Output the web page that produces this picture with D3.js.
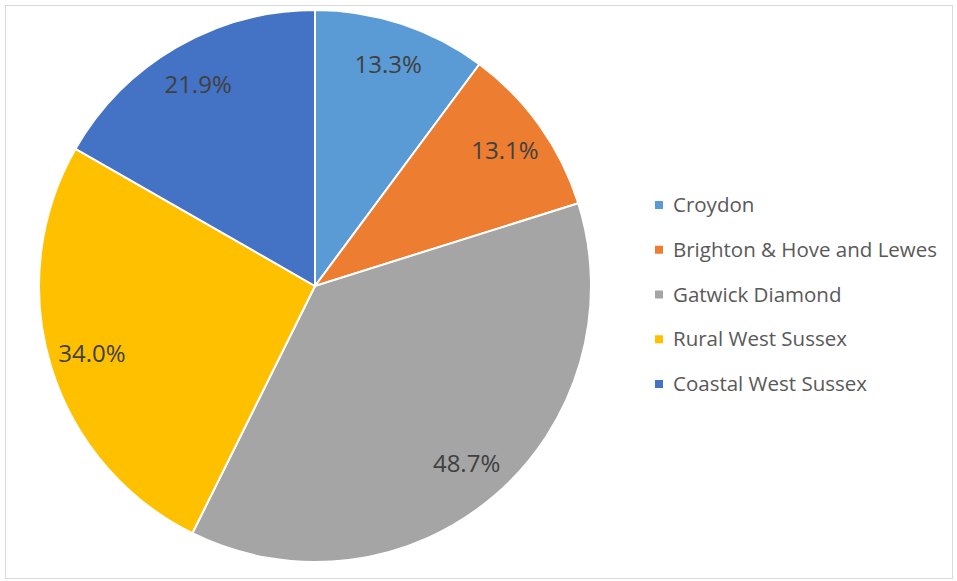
<!DOCTYPE html>
<html>
<head>
<meta charset="utf-8">
<script src="https://cdn.jsdelivr.net/npm/d3@7"></script>
<style>
  body { margin: 0; background: #fff; }
  svg { display: block; }
  .label { font-family: "Open Sans", sans-serif; font-size: 24px; fill: #404040; }
  .legend text { font-family: "Open Sans", sans-serif; font-size: 20.5px; fill: #595959; }
</style>
</head>
<body>
<div id="chart"></div>
<script>
"use strict";

var regions = ['Croydon', 'Brighton & Hove and Lewes', 'Gatwick Diamond', 'Rural West Sussex', 'Coastal West Sussex'];
var shares = [13.3, 13.1, 48.7, 34.0, 21.9];
var colours = ['#5b9bd5', '#ed7d31', '#a5a5a5', '#ffc000', '#4472c4'];

var width = 957, height = 581;
var cx = 315, cy = 286, radius = 276;

var svg = d3.select('#chart').append('svg')
    .attr('width', width)
    .attr('height', height);

// chart area border
svg.append('rect')
    .attr('x', 5.5).attr('y', 5.5)
    .attr('width', width - 10).attr('height', height - 8)
    .attr('fill', '#fff')
    .attr('stroke', '#d9d9d9');

var data = regions.map(function (r, i) {
    return {name: r, value: shares[i], colour: colours[i]};
});

var pie = d3.pie()
    .sort(null)
    .value(function (d) { return d.value; });

var arc = d3.arc().innerRadius(0).outerRadius(radius);
var labelArc = d3.arc().innerRadius(radius * 0.845).outerRadius(radius * 0.845);

var g = svg.append('g')
    .attr('transform', 'translate(' + cx + ',' + cy + ')');

var slices = g.selectAll('.slice')
    .data(pie(data))
    .enter().append('g')
        .attr('class', 'slice');

slices.append('path')
    .attr('d', arc)
    .attr('fill', function (d) { return d.data.colour; })
    .attr('stroke', '#fff')
    .attr('stroke-width', 2);

slices.append('text')
    .attr('class', 'label')
    .attr('transform', function (d) {
        return 'translate(' + labelArc.centroid(d) + ')';
    })
    .attr('text-anchor', 'middle')
    .attr('dy', '0.35em')
    .text(function (d) { return d.data.value.toFixed(1) + '%'; });

var legendY = d3.scalePoint()
    .domain(regions)
    .range([205, 384]);

var legend = svg.append('g')
    .attr('class', 'legend')
    .selectAll('g')
    .data(data)
    .enter().append('g')
        .attr('transform', function (d) {
            return 'translate(655,' + legendY(d.name) + ')';
        });

legend.append('rect')
    .attr('x', 0).attr('y', -4)
    .attr('width', 8).attr('height', 8)
    .attr('fill', function (d) { return d.colour; });

legend.append('text')
    .attr('x', 18)
    .attr('dy', '0.35em')
    .text(function (d) { return d.name; });
</script>
</body>
</html>
